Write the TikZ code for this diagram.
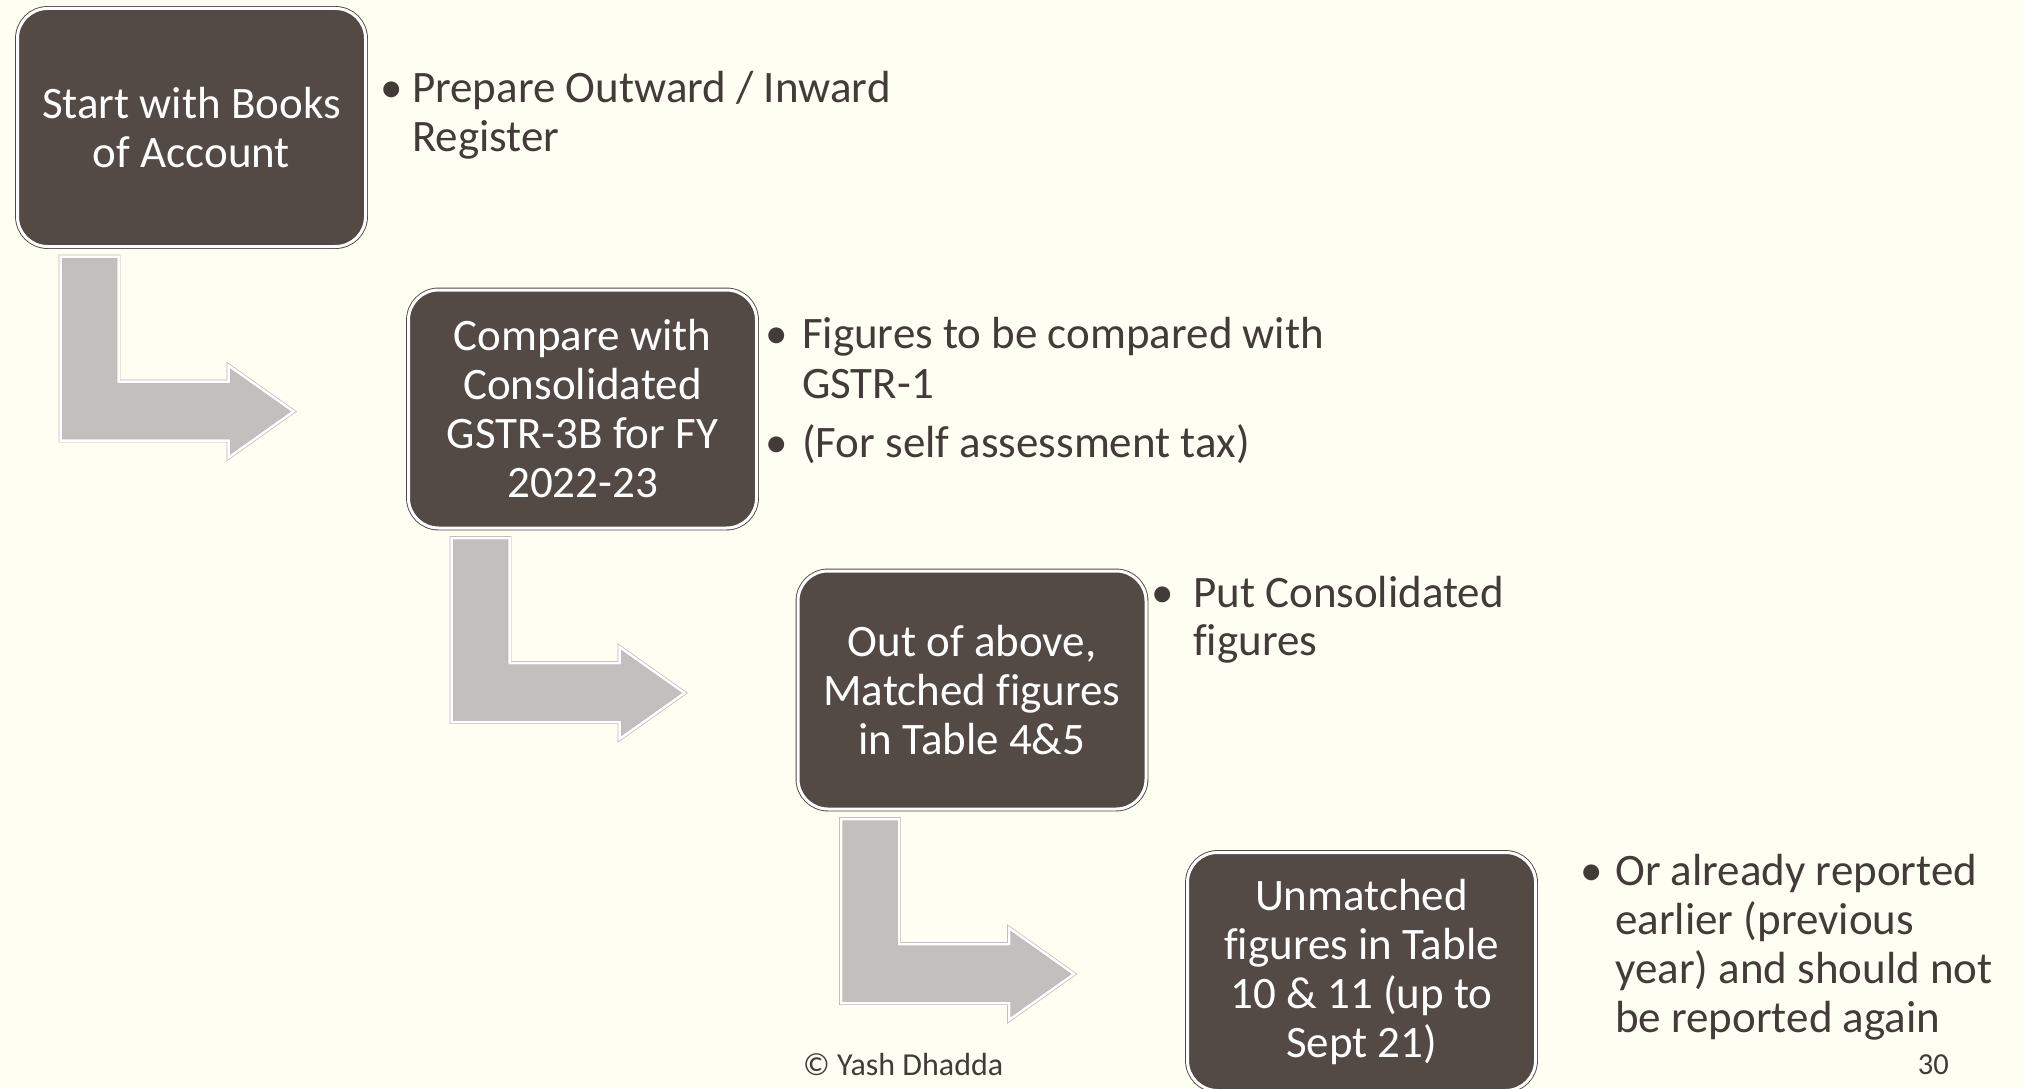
\documentclass[tikz,border=0pt]{standalone}
\usepackage{fontspec}
\setmainfont{Carlito}[Ligatures={NoCommon}]
\definecolor{bgc}{RGB}{255,254,243}
\definecolor{boxc}{RGB}{83,74,69}
\definecolor{boxedge}{RGB}{80,72,67}
\definecolor{arrc}{RGB}{193,192,189}
\definecolor{arredge}{RGB}{185,184,181}
\definecolor{txtc}{RGB}{66,59,55}
\newcommand\bxfont{\fontsize{45}{49}\selectfont}
\newcommand\ftfont{\fontsize{32}{38}\selectfont}
\newcommand\pgnfont{\fontsize{30.5}{36}\selectfont}
\tikzset{
  stepbox/.style={fill=boxc, draw=boxedge, double=white, double distance=3pt,
    line width=0.9pt, rounded corners=30pt, minimum width=348pt, minimum height=238pt,
    text=white, align=center, font=\bxfont, inner sep=0pt, outer sep=0pt},
  bend arrow/.style={fill=arrc, draw=arredge, double=white, double distance=2.5pt,
    line width=0.7pt, line join=miter},
  line/.style={anchor=base west, inner sep=0pt, text=txtc, font=\bxfont},
  bul/.style={anchor=base, inner sep=0pt, text=txtc, font=\bxfont},
}
\begin{document}
\begin{tikzpicture}[x=1pt,y=-1pt]
\fill[bgc] (0,0) rectangle (2024,1089);
\useasboundingbox (0,0) rectangle (2024,1089);

% boxes
\node[stepbox] (b1) at (191.5,127.5) {Start with Books\\of Account};
\node[stepbox] (b2) at (582.5,409) {Compare with\\Consolidated\\GSTR-3B for FY\\2022-23};
\node[stepbox] (b3) at (972,690) {Out of above,\\Matched figures\\in Table 4\&5};
\node[stepbox] (b4) at (1361.5,971.5) {Unmatched\\figures in Table\\10 \& 11 (up to\\Sept 21)};

% bent arrows
\foreach \b in {b1,b2,b3}{
  \draw[bend arrow, shift={(\b.south west)}]
    (43,10) -- (101,10) -- (101,135) -- (211,135) -- (211,119) -- (276,165)
    -- (211,211) -- (211,194) -- (43,194) -- cycle;
}

% bullet texts
\node[bul] (u1) at (392,103) {•};
\node[line] (t1a) at (412,103) {Prepare Outward / Inward};
\node[line] (t1b) at (412,152) {Register};

\node[bul] (u2a) at (777,348) {•};
\node[line] (t2a) at (802,348) {Figures to be compared with};
\node[line] (t2b) at (802,398) {GSTR-1};
\node[bul] (u2b) at (777,457) {•};
\node[line] (t2c) at (802,457) {(For self assessment tax)};

\node[bul] (u3) at (1163,607) {•};
\node[line] (t3a) at (1193,607) {Put Consolidated};
\node[line] (t3b) at (1193,655) {figures};

\node[bul] (u4) at (1592,885) {•};
\node[line] (t4a) at (1615,885) {Or already reported};
\node[line] (t4b) at (1615,934) {earlier (previous};
\node[line] (t4c) at (1615,983) {year) and should not};
\node[line] (t4d) at (1615,1032) {be reported again};

% footer
\node[anchor=base west, inner sep=0pt, text=txtc, font=\ftfont] (foot) at (803,1075) {© Yash Dhadda};
\node[anchor=base east, inner sep=0pt, text=txtc, font=\pgnfont] (pg) at (1949,1074) {30};
\end{tikzpicture}
\end{document}
